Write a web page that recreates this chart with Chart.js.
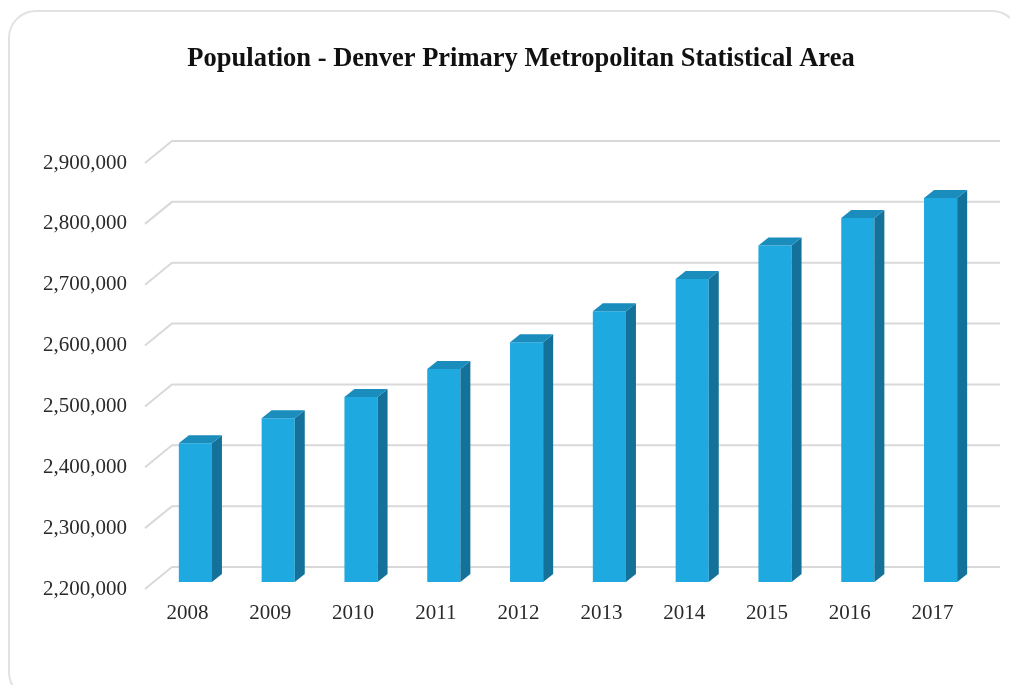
<!DOCTYPE html>
<html>
<head>
<meta charset="utf-8">
<script src="https://cdn.jsdelivr.net/npm/chart.js@4.4.1/dist/chart.umd.min.js"></script>
<style>
  html, body { margin: 0; padding: 0; background: #fff; overflow: hidden; }
  #card {
    position: absolute; left: 8px; top: 10px; width: 1012px; height: 690px;
    border: 2px solid #e2e2e2; border-radius: 28px; box-sizing: border-box;
  }
  #wrap { position: absolute; left: 0; top: 0; width: 1010px; height: 685px; }
</style>
</head>
<body>
<div id="card"></div>
<div id="wrap"><canvas id="popChart" width="1010" height="685"></canvas></div>
<script>
// Data
const years = ['2008', '2009', '2010', '2011', '2012', '2013', '2014', '2015', '2016', '2017'];
const population = [2428000, 2469000, 2504000, 2550000, 2594000, 2645000, 2698000, 2753000, 2798000, 2831000];
const yTicks = [2200000, 2300000, 2400000, 2500000, 2600000, 2700000, 2800000, 2900000];
const chartTitle = 'Population - Denver Primary Metropolitan Statistical Area';

// 3D look: back wall offset and bar depth
const WALL_DX = 18, WALL_DY = -15;
const FRONT_DX = -9, FRONT_DY = 7;
const BAR_DX = 10, BAR_DY = -8;

const serif = "'Liberation Serif', 'Times New Roman', serif";

const threeD = {
  id: 'threeD',
  beforeDatasetsDraw(chart) {
    const ctx = chart.ctx;
    const y = chart.scales.y;
    const area = chart.chartArea;
    ctx.save();
    ctx.strokeStyle = '#d9d9d9';
    ctx.lineWidth = 2;
    yTicks.forEach((v) => {
      const py = y.getPixelForValue(v);
      ctx.beginPath();
      ctx.moveTo(area.left + FRONT_DX, py + FRONT_DY);
      ctx.lineTo(area.left + WALL_DX, py + WALL_DY);
      ctx.lineTo(area.right + WALL_DX, py + WALL_DY);
      ctx.stroke();
    });
    ctx.restore();
  },
  afterDatasetsDraw(chart) {
    const ctx = chart.ctx;
    const meta = chart.getDatasetMeta(0);
    const bottom = chart.chartArea.bottom;
    ctx.save();
    meta.data.forEach((bar) => {
      const { x, y, base, width } = bar.getProps(['x', 'y', 'base', 'width'], true);
      const b = Math.min(base, bottom);
      const l = x - width / 2, r = x + width / 2;
      // side face
      ctx.fillStyle = '#13719a';
      ctx.beginPath();
      ctx.moveTo(r, y);
      ctx.lineTo(r + BAR_DX, y + BAR_DY);
      ctx.lineTo(r + BAR_DX, b + BAR_DY);
      ctx.lineTo(r, b);
      ctx.closePath();
      ctx.fill();
      // top face
      ctx.fillStyle = '#1a8dbd';
      ctx.beginPath();
      ctx.moveTo(l, y);
      ctx.lineTo(l + BAR_DX, y + BAR_DY);
      ctx.lineTo(r + BAR_DX, y + BAR_DY);
      ctx.lineTo(r, y);
      ctx.closePath();
      ctx.fill();
    });
    ctx.restore();
  },
  afterDraw(chart) {
    // title sits centred over the plot wall, not the canvas
    const ctx = chart.ctx;
    ctx.save();
    ctx.fillStyle = '#111';
    ctx.font = 'bold 26.5px ' + serif;
    ctx.textAlign = 'center';
    ctx.textBaseline = 'middle';
    ctx.fillText(chartTitle, 521, 59);
    ctx.restore();
  }
};

new Chart(document.getElementById('popChart').getContext('2d'), {
  type: 'bar',
  data: {
    labels: years,
    datasets: [{
      data: population,
      backgroundColor: '#1ea9e1',
      borderWidth: 0,
      categoryPercentage: 1,
      barPercentage: 0.4
    }]
  },
  options: {
    responsive: false,
    animation: false,
    layout: { padding: { left: 0, right: 28, top: 156, bottom: 0 } },
    plugins: {
      legend: { display: false },
      tooltip: { enabled: false },
      title: { display: false }
    },
    scales: {
      x: {
        grid: { display: false, drawTicks: false },
        border: { display: false },
        ticks: { color: '#2a2a2a', font: { family: serif, size: 21 }, padding: 19, labelOffset: -8 },
        afterFit(scale) { scale.height = 103; }
      },
      y: {
        min: 2200000,
        max: 2900000,
        grid: { display: false, drawTicks: false },
        border: { display: false },
        afterBuildTicks(scale) { scale.ticks = yTicks.map((v) => ({ value: v })); },
        ticks: {
          color: '#2a2a2a',
          font: { family: serif, size: 21 },
          padding: 27,
          labelOffset: 7,
          callback: (v) => v.toLocaleString('en-US')
        },
        afterFit(scale) { scale.width = 154; }
      }
    }
  },
  plugins: [threeD]
});
</script>
</body>
</html>
